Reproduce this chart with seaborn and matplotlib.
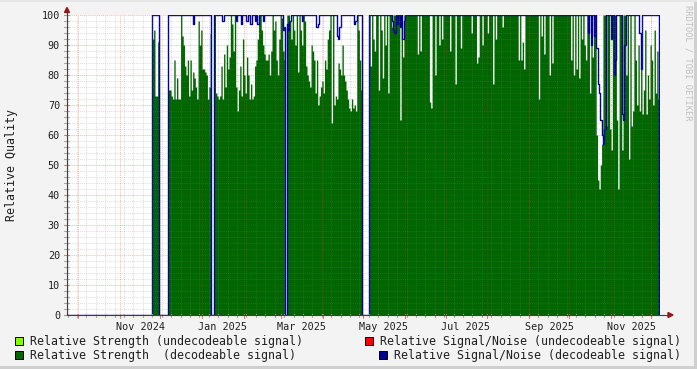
import numpy as np
import pandas as pd
import matplotlib
matplotlib.use("Agg")
import matplotlib.pyplot as plt
import matplotlib.dates as mdates
from matplotlib.patches import Rectangle, Polygon
import seaborn as sns

# ---------------- data (daily samples) ----------------
first_day = "2024-09-22"
last_day = "2025-12-07"

seg_a_start = "2024-11-25"
seg_a = [92, 95, 73, 73, 91]

seg_b_start = "2024-12-07"
seg_b = [75, 75, 73, 72, 85, 72, 79, 72, 72, 100, 93, 90, 83, 80, 85, 73,
         85, 75, 81, 79, 76, 72, 98, 90, 95, 82, 82, 81, 80, 72, 76, 94]

seg_c_start = "2025-01-10"
seg_c = [100, 74, 73, 72, 73, 83, 72, 87, 76, 90, 82, 86, 100, 97, 88, 100,
         76, 68, 75, 83, 73, 92, 80, 74, 86, 80, 72, 77, 72, 73, 83, 85,
         92, 100, 100, 95, 90, 87, 85, 85, 87, 80, 88, 100, 95, 98, 85, 80,
         92, 100, 99, 88, 85]

seg_d_start = "2025-03-05"
seg_d = [100, 100, 98, 92, 100, 95, 90, 100, 81, 100, 95, 90, 100, 98, 83, 80,
         78, 76, 90, 88, 85, 74, 85, 70, 73, 76, 78, 74, 85, 82, 92, 95,
         100, 64, 100, 70, 73, 72, 84, 82, 80, 90, 80, 78, 75, 72, 69, 68,
         72, 69, 70, 68, 100, 95, 85, 75]

seg_e_start = "2025-05-05"
seg_e = [100, 83, 100, 92, 88, 100, 100, 75, 100, 95,
         79, 100, 90, 100, 74, 100, 100, 96, 100, 100,
         100, 100, 100, 65, 100, 86, 100, 100, 100, 100,
         100, 100, 100, 100, 100, 100, 87, 100, 88, 100,
         100, 100, 100, 100, 100, 71, 69, 100, 100, 80,
         100, 100, 90, 100, 92, 100, 100, 100, 100, 100,
         88, 100, 100, 100, 77, 100, 100, 100, 89, 100,
         100, 100, 100, 100, 100, 100, 94, 100, 100, 100,
         84, 86, 100, 100, 90, 100, 100, 100, 94, 100,
         100, 100, 77, 100, 92, 100, 100, 100, 100, 96,
         100, 100, 100, 100, 100, 100, 100, 100, 100, 100,
         100, 85, 100, 85, 91, 82, 100, 100, 100, 100,
         100, 100, 100, 100, 100, 100, 72, 100, 93, 100,
         87, 100, 100, 100, 80, 100, 84, 100, 100, 100,
         100, 100, 100, 100, 100, 100, 100, 100, 100, 100,
         85, 100, 80, 100, 82, 100, 79, 100, 92, 100,
         90, 85, 100, 100, 74, 100, 86, 100, 100, 60,
         45, 42, 50, 57, 100, 100, 63, 100, 100, 62,
         55, 100, 100, 100, 65, 42, 100, 100, 55, 100,
         100, 80, 100, 52, 100, 63, 68, 100, 85, 70,
         90, 68, 85, 67, 75, 95, 67, 80, 72, 90,
         85, 70, 95, 74, 88, 72]

# signal/noise is 100 wherever a sample exists, except these readings
snr_dip_dates = ["2024-12-25", "2025-01-16", "2025-01-26", "2025-01-30", "2025-02-03",
                 "2025-02-06", "2025-02-09", "2025-02-11", "2025-02-15", "2025-03-02",
                 "2025-03-03", "2025-03-05", "2025-03-06", "2025-03-07", "2025-03-16",
                 "2025-03-27", "2025-03-28", "2025-04-11", "2025-04-12", "2025-04-13",
                 "2025-04-24", "2025-04-25", "2025-05-22", "2025-05-23", "2025-05-24",
                 "2025-05-26", "2025-05-28", "2025-05-30", "2025-05-31",
                 "2025-10-15", "2025-10-17", "2025-10-19", "2025-10-21", "2025-10-22",
                 "2025-10-23", "2025-10-24", "2025-10-25", "2025-10-26", "2025-10-27",
                 "2025-11-01", "2025-11-03", "2025-11-04", "2025-11-09", "2025-11-10",
                 "2025-11-11", "2025-11-22", "2025-11-23"]
snr_dip_values = [97, 98, 98, 97, 98,
                  97, 98, 97, 98, 95,
                  96, 97, 95, 98, 98,
                  96, 97, 93, 92, 96,
                  97, 98, 98, 95, 94,
                  97, 96, 92, 98,
                  94, 90, 93, 89, 77,
                  74, 65, 60, 57, 62,
                  92, 80, 85, 67, 65,
                  90, 94, 82]

# ---------------- build series ----------------
days = pd.date_range(first_day, last_day, freq="D")
strength = pd.Series(0.0, index=days)
for start, vals in [(seg_a_start, seg_a), (seg_b_start, seg_b), (seg_c_start, seg_c),
                    (seg_d_start, seg_d), (seg_e_start, seg_e)]:
    idx = pd.date_range(start, periods=len(vals), freq="D")
    strength.loc[idx] = vals
snr = pd.Series(np.where(strength.values > 0, 100.0, 0.0), index=days)
snr.loc[pd.to_datetime(snr_dip_dates)] = snr_dip_values
df = pd.DataFrame({"date": days, "strength": strength.values, "snr": snr.values})

# ---------------- style ----------------
W, H = 697, 369
BG = "#f3f3f3"
GREEN = "#006600"
BLUE = "#000099"
LGREEN = "#80ff00"
RED = "#ff0000"
MONO = "DejaVu Sans Mono"

sns.set_theme(style="white")
plt.rcParams["font.family"] = [MONO]

fig = plt.figure(figsize=(W / 100, H / 100), dpi=100, facecolor=BG)
ax = fig.add_axes([67 / W, 54 / H, 593 / W, 300 / H])
ax.set_facecolor("white")

nov1 = mdates.date2num(pd.Timestamp("2024-11-01"))
nov1b = mdates.date2num(pd.Timestamp("2025-11-01"))
ppd = (611 - 120) / (nov1b - nov1)
x0 = nov1 - (120 - 67) / ppd
x1 = nov1b + (660 - 611) / ppd

# data
ax.fill_between(df["date"], df["strength"], step="post", color=GREEN, linewidth=0, zorder=2)
sns.lineplot(data=df, x="date", y="snr", drawstyle="steps-post", color=BLUE,
             linewidth=1.0, estimator=None, ax=ax, zorder=3)

ax.set_xlim(x0, x1)
ax.set_ylim(0, 100)

# grid (drawn on top like rrdtool)
dash = (0, (1, 1))
minor_c = (0.5, 0.5, 0.5, 0.25)
major_c = (1, 0.1, 0.1, 0.3)
week_lines = pd.date_range("2024-09-23", "2025-12-07", freq="W-MON")
month_lines = pd.date_range("2024-10-01", "2025-12-01", freq="MS")
for d in week_lines:
    ax.axvline(d, color=minor_c, lw=0.75, ls=dash, zorder=4)
for v in range(2, 100, 2):
    if v % 10:
        ax.axhline(v, color=minor_c, lw=0.75, ls=dash, zorder=4)
for d in month_lines:
    ax.axvline(d, color=major_c, lw=0.75, ls=dash, zorder=5)
for v in range(10, 101, 10):
    ax.axhline(v, color=major_c, lw=0.75, ls=dash, zorder=5)

for s in ax.spines.values():
    s.set_visible(False)

# axes lines and arrows (figure pixel coords)
def fx(px):
    return px / W

def fy(py):
    return 1 - py / H

axis_col = "#404040"
fig.add_artist(plt.Line2D([fx(67), fx(67)], [fy(315), fy(10)], color=axis_col, lw=0.8))
fig.add_artist(plt.Line2D([fx(67), fx(670)], [fy(315), fy(315)], color=axis_col, lw=0.8))
fig.add_artist(Polygon([[fx(64.5), fy(12.5)], [fx(69.5), fy(12.5)], [fx(67), fy(7.5)]],
                       closed=True, color="#a01010", transform=fig.transFigure))
fig.add_artist(Polygon([[fx(668), fy(312.5)], [fx(668), fy(317.5)], [fx(673), fy(315)]],
                       closed=True, color="#a01010", transform=fig.transFigure))

# ticks
ax.set_yticks(range(0, 101, 10))
ax.set_yticklabels([str(v) for v in range(0, 101, 10)], fontsize=7.3, family=MONO, color="#202020")
mid_months = pd.to_datetime(["2024-11-16", "2025-01-16", "2025-03-16", "2025-05-16",
                             "2025-07-16", "2025-09-16", "2025-11-16"])
ax.set_xticks(mid_months)
ax.set_xticklabels(["Nov 2024", "Jan 2025", "Mar 2025", "May 2025", "Jul 2025",
                    "Sep 2025", "Nov 2025"], fontsize=7.3, family=MONO, color="#202020")
ax.tick_params(axis="both", length=0)
ax.tick_params(axis="y", pad=5)
ax.tick_params(axis="x", pad=5)
ax.set_xlabel("")
ax.set_ylabel("")

# small tick marks on axes
tick_tr = ax.get_yaxis_transform()
for v in range(0, 101, 2):
    c = "#d08080" if v % 10 == 0 else "#a8a8a8"
    ax.plot([-3 / 593, 2 / 593], [v, v], transform=tick_tr, color=c, lw=0.8, clip_on=False, zorder=6)
xtr = ax.get_xaxis_transform()
for d in week_lines:
    ax.plot([d, d], [-2 / 300, 1 / 300], transform=xtr, color="#a8a8a8", lw=0.8, clip_on=False, zorder=6)
for d in month_lines:
    ax.plot([d, d], [-3 / 300, 1 / 300], transform=xtr, color="#d08080", lw=0.8, clip_on=False, zorder=6)
ax.set_xlim(x0, x1)
ax.set_ylim(0, 100)

# titles
fig.text(fx(12), fy(165), "Relative Quality", rotation=90, ha="center", va="center",
         fontsize=8.35, family=MONO, color="#202020")
fig.text(fx(688), fy(5), "RRDTOOL / TOBI OETIKER", rotation=270, ha="center", va="top",
         fontsize=6.2, family=MONO, color="#c0c0c0")

# legend
def legend_item(xs, ys, color, label, xt):
    fig.add_artist(Rectangle((fx(xs), fy(ys + 8)), 8 / W, 8 / H, transform=fig.transFigure,
                             facecolor=color, edgecolor="black", linewidth=0.7))
    fig.text(fx(xt), fy(ys + 4.5), label, fontsize=8.36, family=MONO, va="center",
             ha="left", color="#202020")

legend_item(15, 337, LGREEN, "Relative Strength (undecodeable signal)", 30)
legend_item(365, 337, RED, "Relative Signal/Noise (undecodeable signal)", 380)
legend_item(15, 351, GREEN, "Relative Strength  (decodeable signal)", 30)
legend_item(379, 351, BLUE, "Relative Signal/Noise (decodeable signal)", 394)

# frame shading
fig.add_artist(Rectangle((fx(0), fy(369)), 1, 3 / H, transform=fig.transFigure,
                         facecolor="#cfcfcf", edgecolor="none"))
fig.add_artist(Rectangle((fx(694), 0), 3 / W, 1, transform=fig.transFigure,
                         facecolor="#cfcfcf", edgecolor="none"))
fig.add_artist(Rectangle((0, fy(2)), 1, 2 / H, transform=fig.transFigure,
                         facecolor="#e6e6e6", edgecolor="none"))

fig.savefig("out.png", dpi=100, facecolor=BG)
